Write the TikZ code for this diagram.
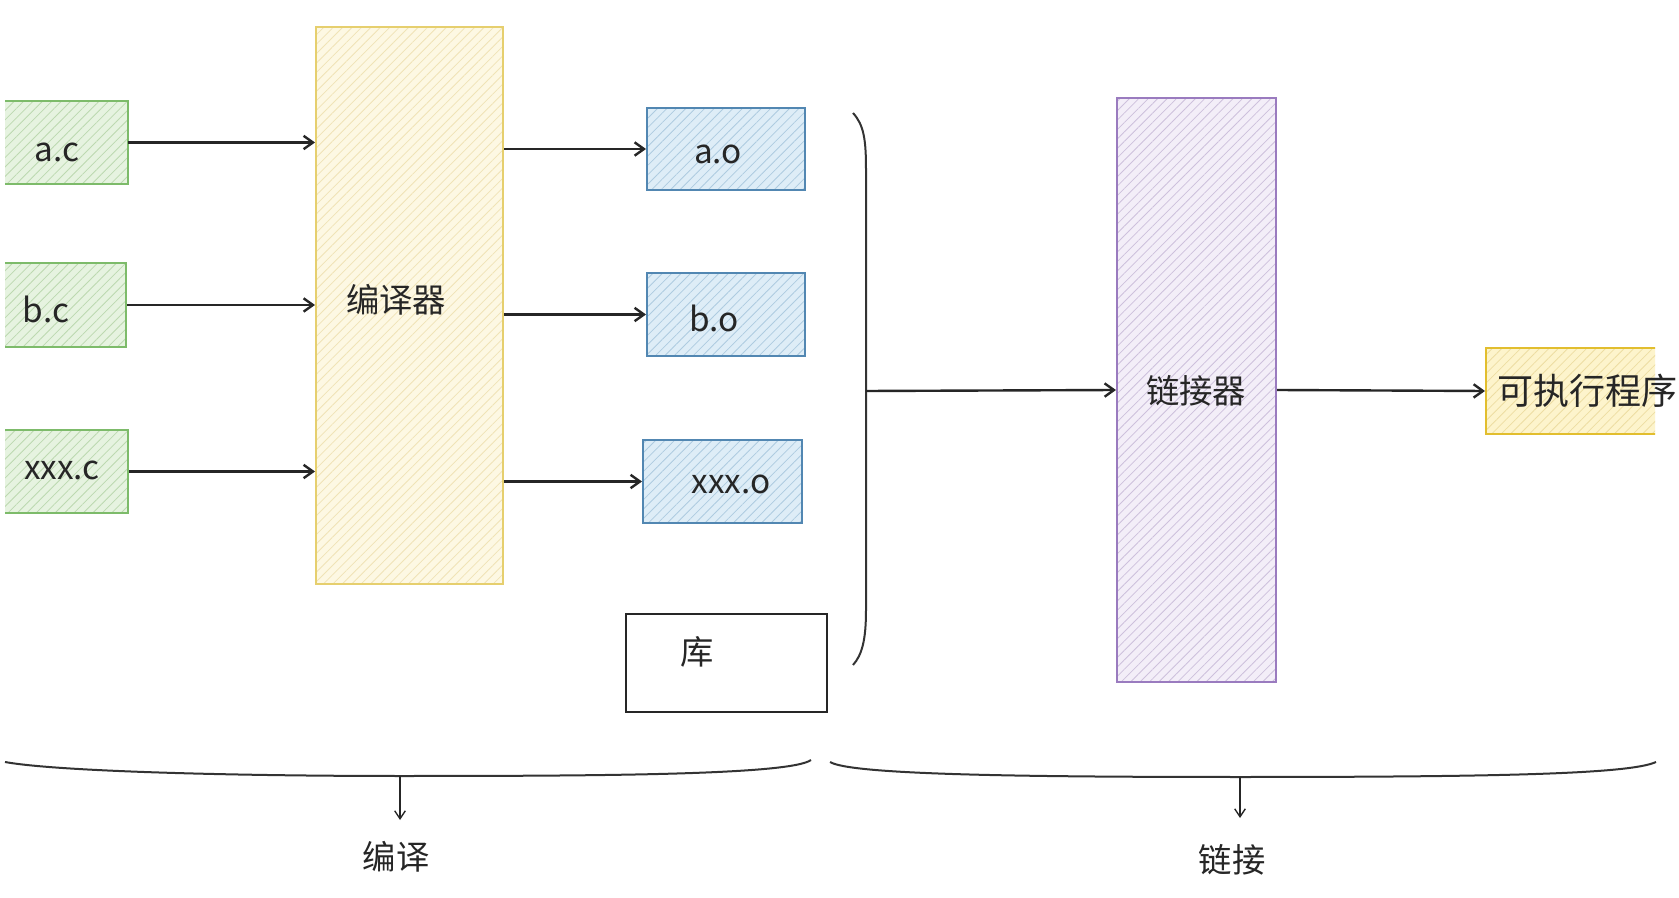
\documentclass[tikz,border=0pt]{standalone}
\usepackage{fontspec}
\setmainfont{Noto Sans CJK SC}
\usetikzlibrary{arrows.meta,patterns.meta}
\definecolor{gstroke}{HTML}{7DBB6A}
\definecolor{gfill}{HTML}{E6F3E0}
\definecolor{ghatch}{HTML}{BCD9B0}
\definecolor{ystroke}{HTML}{E6CF6E}
\definecolor{yfill}{HTML}{FDF8E3}
\definecolor{yhatch}{HTML}{F0E3B6}
\definecolor{bstroke}{HTML}{5287B2}
\definecolor{bfill}{HTML}{DEEDF7}
\definecolor{bhatch}{HTML}{AECBE0}
\definecolor{pstroke}{HTML}{9A7BBF}
\definecolor{pfill}{HTML}{F3EEF8}
\definecolor{phatch}{HTML}{CDC0DC}
\definecolor{estroke}{HTML}{E2BE2E}
\definecolor{efill}{HTML}{FDF4CC}
\definecolor{ehatch}{HTML}{EDDDA2}
\tikzset{
  hbox/.style n args={3}{draw=#1, line width=1.5pt, preaction={fill=#2},
    pattern={Lines[angle=45,distance=5pt,line width=0.6pt]}, pattern color=#3,
    inner sep=0pt},
  srcbox/.style={hbox={gstroke}{gfill}{ghatch}},
  objbox/.style={hbox={bstroke}{bfill}{bhatch}},
  compbox/.style={hbox={ystroke}{yfill}{yhatch}},
  linkbox/.style={hbox={pstroke}{pfill}{phatch}},
  exebox/.style={hbox={estroke}{efill}{ehatch}},
  libbox/.style={draw=black!85, line width=1.5pt, fill=white},
  lbl/.style={font=\fontsize{25pt}{30pt}\selectfont, text=black!85, inner sep=0pt},
  conn/.style={draw=black!85, line width=1.8pt, -{Straight Barb[length=7pt,width=10pt,line width=1.8pt]}},
  thinconn/.style={draw=black!85, line width=1pt, -{Straight Barb[length=6pt,width=8pt,line width=1pt]}},
  brace/.style={draw=black!80, line width=1.5pt},
}
\begin{document}
\begin{tikzpicture}[x=0.75pt,y=-0.75pt]
\useasboundingbox (0,0) rectangle (1679,898);
\fill[white] (0,0) rectangle (1679,898);
\clip (0,0) rectangle (1679,898);

% sources (left edges cut off, as in the reference)
\begin{scope}
\clip (5,0) rectangle (300,898);
\node[srcbox, minimum width=105pt, minimum height=62.25pt] (ac) at (58,142.5) {};
\node[srcbox, minimum width=105pt, minimum height=63pt] (bc) at (56,305) {};
\node[srcbox, minimum width=105pt, minimum height=62.25pt] (xc) at (58,471.5) {};
\end{scope}
\node[lbl] (act) at (57,152) {a.c};
\node[lbl] (bct) at (46,309) {b.c};
\node[lbl] (xct) at (62,470) {xxx.c};

% compiler
\node[compbox, minimum width=140.25pt, minimum height=417.75pt] (comp) at (409.5,305.5) {};
\node[lbl] (compt) at (396,300) {编译器};

% objects
\node[objbox, minimum width=118.5pt, minimum height=61.5pt] (ao) at (726,149) {};
\node[objbox, minimum width=118.5pt, minimum height=62.25pt] (bo) at (726,314.5) {};
\node[objbox, minimum width=119.25pt, minimum height=62.25pt] (xo) at (722.5,481.5) {};
\node[lbl] (aot) at (718,154) {a.o};
\node[lbl] (bot) at (714,318) {b.o};
\node[lbl] (xot) at (731,484) {xxx.o};

% library
\node[libbox, minimum width=150.75pt, minimum height=73.5pt] (lib) at (726.5,663) {};
\node[lbl] (libt) at (697,652) {库};

% linker
\node[linkbox, minimum width=119.25pt, minimum height=438pt] (link) at (1196.5,390) {};
\node[lbl] (linkt) at (1196,391) {链接器};

% executable (right edge cut off, text runs past it)
\begin{scope}
\clip (1400,300) rectangle (1655,480);
\node[exebox, anchor=west, minimum width=170pt, minimum height=64.5pt] (exe) at (1485,391) {};
\end{scope}
\node[lbl, anchor=west, font=\fontsize{27pt}{32pt}\selectfont] (exet) at (1497,391) {可执行程序};

% connectors into compiler
\draw[conn] (ac.east) -- (ac.east -| comp.west);
\draw[conn] (bc.east) -- (bc.east -| comp.west);
\draw[conn] (xc.east) -- (xc.east -| comp.west);

% connectors out of compiler
\draw[conn] (comp.east |- ao.west) -- (ao.west);
\draw[conn] (comp.east |- bo.west) -- (bo.west);
\draw[conn] (comp.east |- xo.west) -- (xo.west);

% right bracket
\coordinate (brk) at (866,391);
\draw[brace] (853,113) .. controls (864,125) and (866,140) .. (866,170)
  -- (866,610) .. controls (866,640) and (862,655) .. (853,665);
\draw[conn] (brk) -- (link.west);
\draw[conn] (link.east) -- (exe.west);

% bottom braces
\coordinate (bl) at (400,776);
\coordinate (br) at (1240,777);
\draw[brace] (5,762) .. controls (60,772) and (250,776) .. (bl)
  .. controls (600,776) and (790,775) .. (811,760);
\draw[brace] (830,762) .. controls (850,774) and (1000,777) .. (br)
  .. controls (1500,777) and (1630,774) .. (1656,762);
\node[lbl] (compile) at (396,857) {编译};
\node[lbl] (linking) at (1232,860) {链接};
\draw[thinconn] (bl) -- (400,820);
\draw[thinconn] (br) -- (1240,818);
\end{tikzpicture}
\end{document}
